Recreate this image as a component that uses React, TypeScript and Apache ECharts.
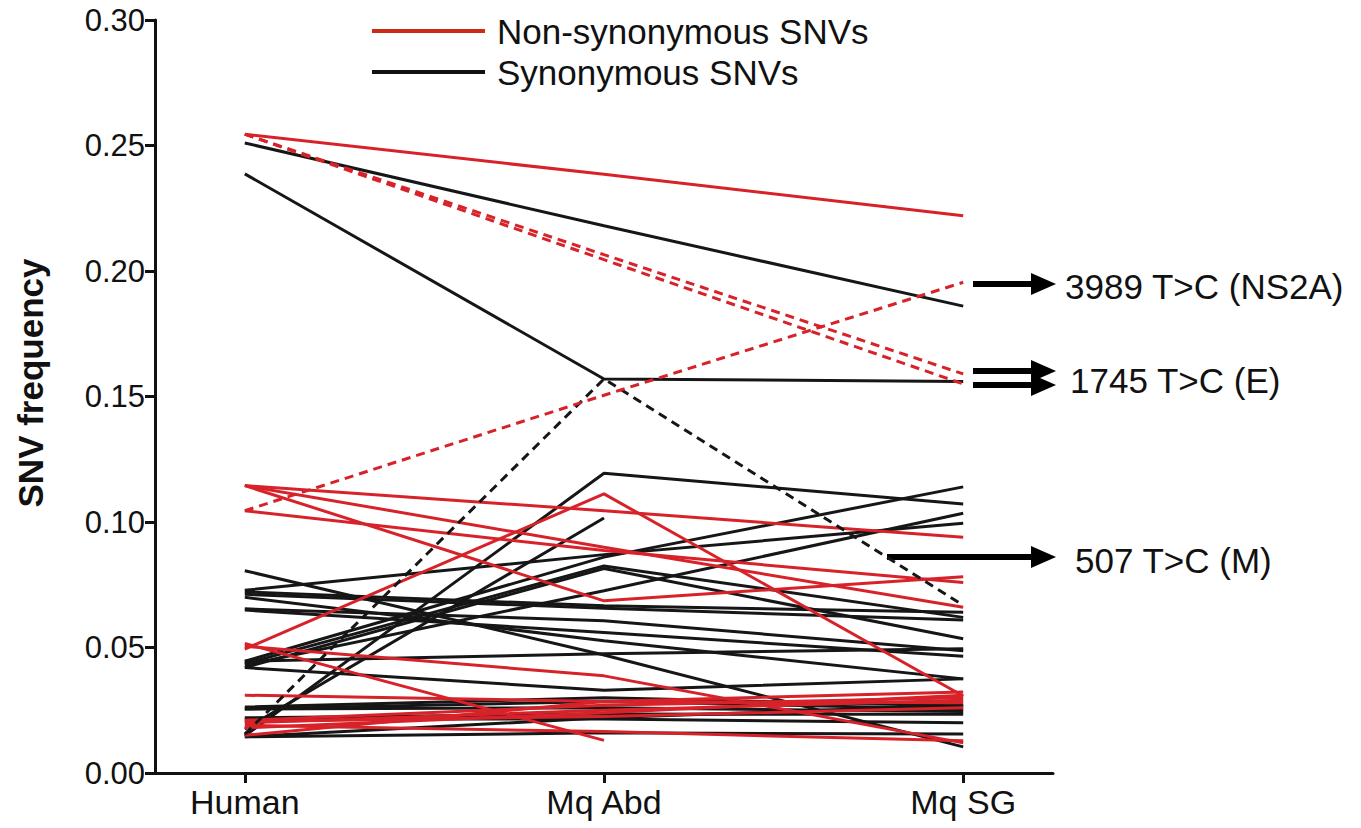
import React, { useEffect, useRef } from "react";
import * as echarts from "echarts";

const categories = ["Human", "Mq Abd", "Mq SG"];
const yMin = 0;
const yMax = 0.3;
const yInterval = 0.05;

// Non-synonymous SNVs (solid)  [Human, Mq Abd, Mq SG]
const nonSynSolid: (number | null)[][] = [
  [0.2545, 0.2385, 0.222],
  [0.1145, 0.1045, 0.0939],
  [0.1145, 0.0686, 0.0782],
  [0.1145, 0.0899, 0.066],
  [0.1045, 0.0886, 0.0759],
  [0.0494, 0.1112, 0.0307],
  [0.0516, 0.013, null],
  [0.0505, 0.0387, 0.012],
  [0.031, 0.0285, 0.0323],
  [0.021, 0.027, 0.03],
  [0.02, 0.025, 0.029],
  [0.019, 0.0165, 0.0128],
  [0.018, 0.024, 0.031],
  [0.015, 0.0285, 0.028],
  [0.0205, 0.0225, 0.026],
];
// Non-synonymous SNVs (dashed, annotated)
const nonSynDashed: (number | null)[][] = [
  [0.2545, 0.2065, 0.159],
  [0.2545, 0.2045, 0.155],
  [0.1045, 0.1505, 0.1955],
];
// Synonymous SNVs (solid)
const synSolid: (number | null)[][] = [
  [0.251, 0.218, 0.186],
  [0.2387, 0.157, 0.156],
  [0.0148, 0.1194, 0.1072],
  [0.0175, 0.1016, null],
  [0.0806, 0.047, 0.0104],
  [0.0728, 0.087, 0.0995],
  [0.043, 0.0726, 0.1035],
  [0.0445, 0.086, 0.114],
  [0.0435, 0.0825, 0.062],
  [0.042, 0.0815, 0.0535],
  [0.0722, 0.0666, 0.064],
  [0.0712, 0.0656, 0.061],
  [0.0654, 0.0607, 0.0487],
  [0.0649, 0.056, 0.0465],
  [0.07, 0.0527, 0.0375],
  [0.0445, 0.0475, 0.0495],
  [0.042, 0.033, 0.0375],
  [0.0263, 0.03, 0.0267],
  [0.0255, 0.026, 0.0245],
  [0.022, 0.0235, 0.0234],
  [0.0215, 0.0215, 0.02],
  [0.0144, 0.016, 0.0155],
  [0.0255, 0.0285, 0.0255],
  [0.0144, 0.022, 0.027],
];
// Synonymous SNVs (dashed, annotated)
const synDashed: (number | null)[][] = [[0.0155, 0.157, 0.0668]];

const legendItems = ["Non-synonymous SNVs", "Synonymous SNVs"];
const annotations = ["3989 T>C (NS2A)", "1745 T>C (E)", "507 T>C (M)"];

const RED = "#d8222a";
const BLACK = "#161616";
const FONT = "'Liberation Sans', Arial, Helvetica, sans-serif";

function toPoints(row: (number | null)[]) {
  const pts: number[][] = [];
  row.forEach((v, i) => {
    if (v !== null) pts.push([i, v]);
  });
  return pts;
}

function makeSeries(rows: (number | null)[][], color: string, dashed: boolean, name: string) {
  return rows.map((row) => ({
    type: "line",
    name,
    data: toPoints(row),
    symbol: "none",
    silent: true,
    z: dashed ? 4 : color === RED ? 3 : 2,
    lineStyle: {
      color,
      width: 3,
      type: dashed ? [9, 6] : "solid",
    },
  }));
}

function arrow(x1: number, x2: number, y: number) {
  return [
    {
      type: "line",
      shape: { x1, y1: y, x2: x2 - 20, y2: y },
      style: { stroke: "#000", lineWidth: 6 },
    },
    {
      type: "polygon",
      shape: { points: [[x2 - 25, y - 11], [x2, y], [x2 - 25, y + 11]] },
      style: { fill: "#000" },
    },
  ];
}

export default function App() {
  const ref = useRef<HTMLDivElement>(null);
  useEffect(() => {
    document.body.style.margin = "0";
    if (!ref.current) return;
    const chart = echarts.init(ref.current, undefined, { renderer: "svg" });
    const option = {
      animation: false,
      backgroundColor: "#fff",
      grid: { left: 155, right: 308, top: 20, bottom: 55, containLabel: false },
      xAxis: {
        type: "value",
        min: -0.25,
        max: 2.25,
        splitLine: { show: false },
        axisLine: { show: true, onZero: false, lineStyle: { color: "#111", width: 3 } },
        axisTick: {
          show: true,
          customValues: [0, 1, 2],
          length: 10,
          lineStyle: { color: "#111", width: 3 },
        },
        axisLabel: {
          customValues: [0, 1, 2],
          formatter: (v: number) => categories[Math.round(v)] ?? "",
          fontFamily: FONT,
          fontSize: 34,
          color: "#111",
          margin: 12,
        },
      },
      yAxis: {
        type: "value",
        min: yMin,
        max: yMax,
        interval: yInterval,
        splitLine: { show: false },
        axisLine: { show: true, onZero: false, lineStyle: { color: "#111", width: 3 } },
        axisTick: { show: true, length: 10, lineStyle: { color: "#111", width: 3 } },
        axisLabel: {
          formatter: (v: number) => v.toFixed(2),
          fontFamily: FONT,
          fontSize: 31,
          color: "#111",
          margin: 10,
        },
      },
      series: [
        ...makeSeries(synSolid, BLACK, false, legendItems[1]),
        ...makeSeries(nonSynSolid, RED, false, legendItems[0]),
        ...makeSeries(synDashed, BLACK, true, legendItems[1]),
        ...makeSeries(nonSynDashed, RED, true, legendItems[0]),
      ],
      graphic: [
        {
          type: "text",
          x: 30,
          y: 383,
          rotation: Math.PI / 2,
          style: {
            text: "SNV frequency",
            fontFamily: FONT,
            fontSize: 35,
            fontWeight: "bold",
            fill: "#111",
            align: "center",
            verticalAlign: "middle",
          },
        },
        {
          type: "line",
          shape: { x1: 372, y1: 31, x2: 485, y2: 31 },
          style: { stroke: "#cc2a14", lineWidth: 4 },
        },
        {
          type: "text",
          x: 497,
          y: 31,
          style: {
            text: legendItems[0],
            fontFamily: FONT,
            fontSize: 35,
            fill: "#111",
            align: "left",
            verticalAlign: "middle",
          },
        },
        {
          type: "line",
          shape: { x1: 372, y1: 72, x2: 485, y2: 72 },
          style: { stroke: "#111", lineWidth: 4 },
        },
        {
          type: "text",
          x: 497,
          y: 72,
          style: {
            text: legendItems[1],
            fontFamily: FONT,
            fontSize: 35,
            fill: "#111",
            align: "left",
            verticalAlign: "middle",
          },
        },
        ...arrow(973, 1056, 284),
        ...arrow(973, 1056, 371),
        ...arrow(973, 1056, 385),
        ...arrow(887, 1056, 557),
        {
          type: "text",
          x: 1065,
          y: 286,
          style: { text: annotations[0], fontFamily: FONT, fontSize: 35, fill: "#111", align: "left", verticalAlign: "middle" },
        },
        {
          type: "text",
          x: 1070,
          y: 380,
          style: { text: annotations[1], fontFamily: FONT, fontSize: 35, fill: "#111", align: "left", verticalAlign: "middle" },
        },
        {
          type: "text",
          x: 1075,
          y: 560,
          style: { text: annotations[2], fontFamily: FONT, fontSize: 35, fill: "#111", align: "left", verticalAlign: "middle" },
        },
      ],
    };
    chart.setOption(option as any);
    return () => chart.dispose();
  }, []);
  return <div ref={ref} style={{ width: 1361, height: 828 }} />;
}
